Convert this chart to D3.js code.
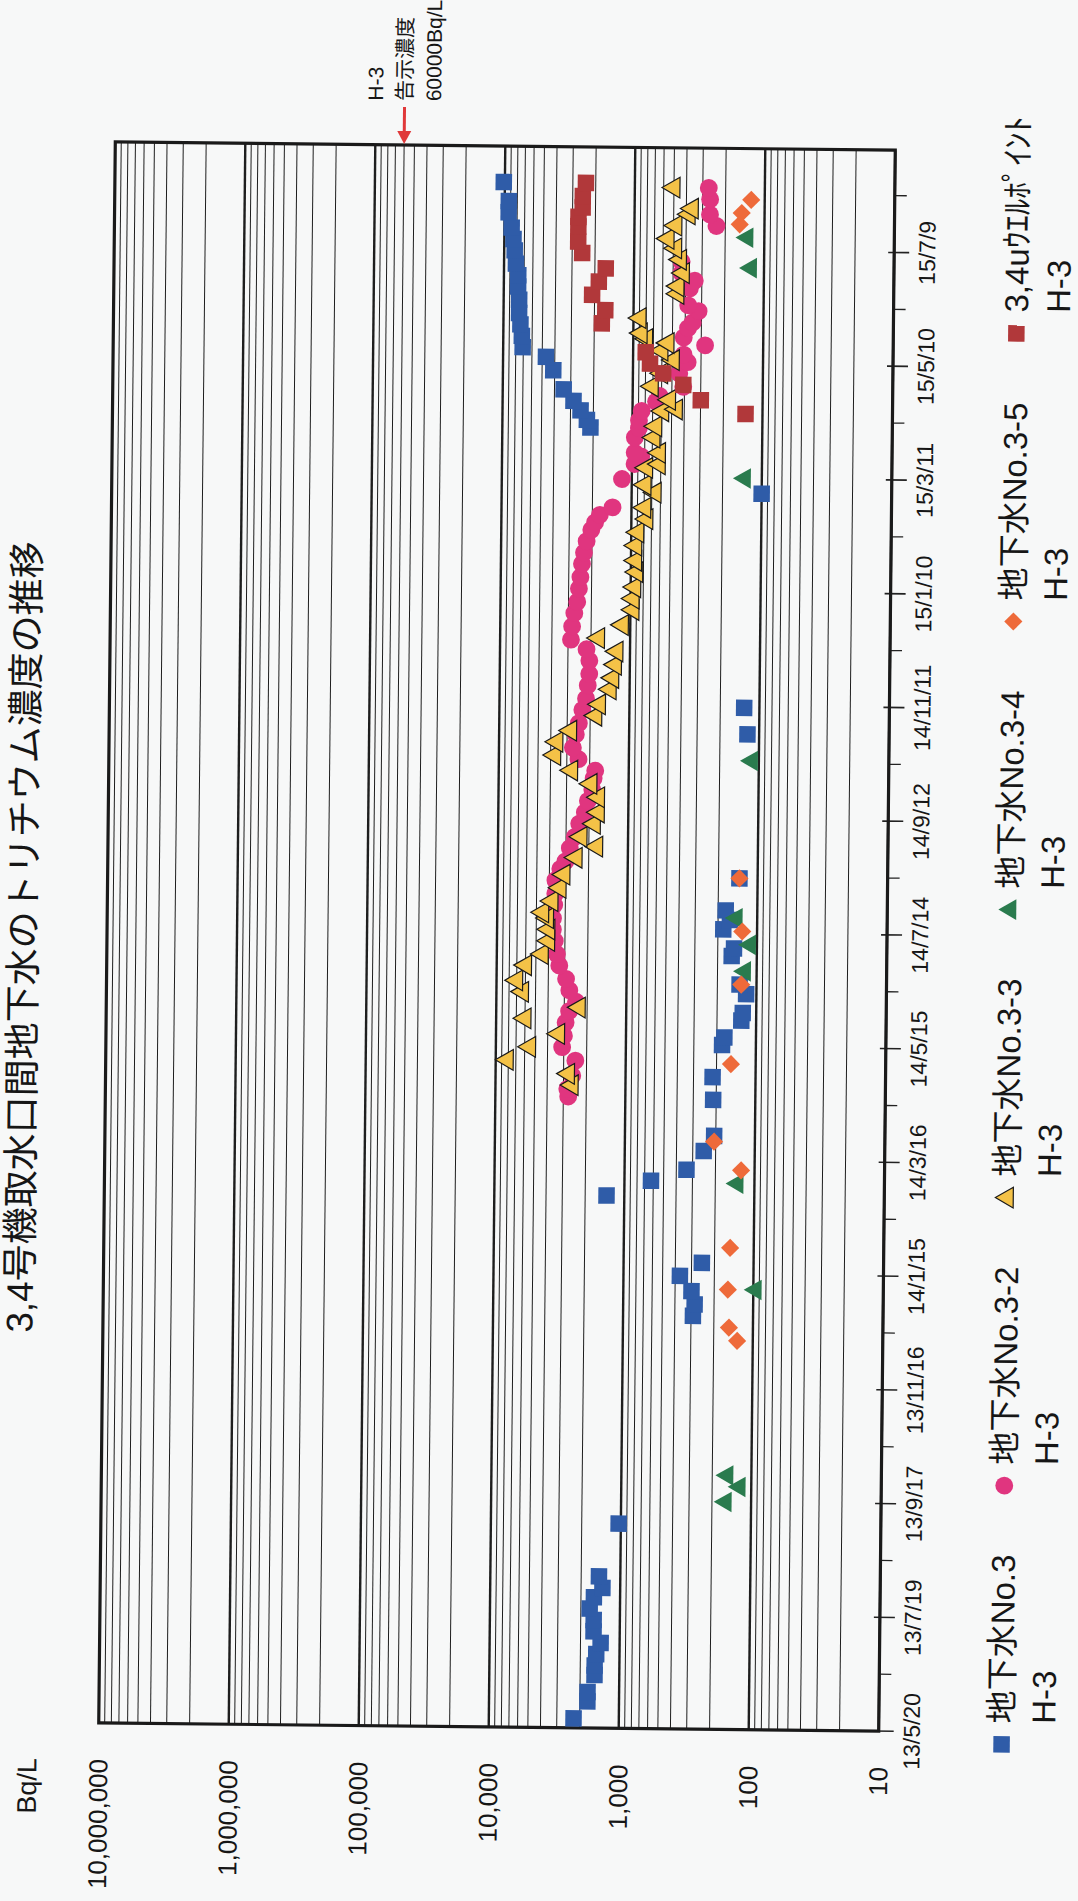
<!DOCTYPE html>
<html>
<head>
<meta charset="utf-8">
<script src="https://cdn.jsdelivr.net/npm/d3@7"></script>
<style>
  body { margin: 0; background: #f7f8f8; }
  svg { display: block; }
  text { font-family: "Liberation Sans", Arial, "Noto Sans CJK JP", sans-serif; fill: #161616; }
</style>
</head>
<body>
<div class="chart"></div>
<script>
var svgWidth = 1078;
var svgHeight = 1901;

// plot frame (the scanned page is turned 90deg, dates run bottom -> top)
var frame = { left: 107, right: 887, top: 146, bottom: 1727 };

// ---- data ----
var title = "3,4号機取水口間地下水のトリチウム濃度の推移";
var unitLabel = "Bq/L";
var valueTicks = [10, 100, 1000, 10000, 100000, 1000000, 10000000];
var dateTicks = ["13/5/20", "13/7/19", "13/9/17", "13/11/16", "14/1/15", "14/3/16", "14/5/15",
  "14/7/14", "14/9/12", "14/11/11", "15/1/10", "15/3/11", "15/5/10", "15/7/9"];
var dateMin = "2013-05-20";
var dateMax = "2015-09-01";
var limitValue = 60000;
var limitLines = ["H-3", "告示濃度", "60000Bq/L"];
var legendNames = ["地下水No.3", "地下水No.3-2", "地下水No.3-3", "地下水No.3-4", "地下水No.3-5", "3,4uｳｴﾙﾎﾟｲﾝﾄ"];
var legendSub = "H-3";

var no3 = [["2013-05-25",2230],["2013-06-03",1750],["2013-06-08",1750],["2013-06-17",1550],["2013-06-22",1550],
  ["2013-06-28",1510],["2013-07-04",1400],["2013-07-10",1590],["2013-07-16",1590],["2013-07-22",1710],
  ["2013-07-28",1590],["2013-08-02",1370],["2013-08-08",1460],["2013-09-05",1040],
  ["2013-12-24",290],["2013-12-30",282],["2014-01-06",299],["2014-01-14",368],["2014-01-21",250],
  ["2014-02-25",1370],["2014-03-05",625],["2014-03-11",334],["2014-03-21",247],["2014-03-29",206],
  ["2014-04-17",211],["2014-04-29",214],["2014-05-16",182],["2014-05-20",175],["2014-05-29",130],
  ["2014-06-02",127],["2014-06-12",120],["2014-06-17",135],["2014-07-02",156],["2014-07-06",150],
  ["2014-07-16",182],["2014-07-21",162],["2014-07-26",175],["2014-08-12",138],["2014-10-27",123],
  ["2014-11-10",131],["2015-03-03",100],
  ["2015-04-06",2100],["2015-04-10",2240],["2015-04-15",2510],["2015-04-20",2850],["2015-04-26",3400],
  ["2015-05-06",4100],["2015-05-13",4680],["2015-05-18",7080],["2015-05-24",7200],["2015-05-30",7400],
  ["2015-06-05",7590],["2015-06-12",7600],["2015-06-19",7760],["2015-06-25",7760],["2015-07-01",8100],
  ["2015-07-08",8300],["2015-07-14",8500],["2015-07-20",8800],["2015-07-28",9300],["2015-08-03",9300],
  ["2015-08-13",10200]];

var no3_2 = [["2014-04-18",2750],["2014-04-22",2800],["2014-04-29",2570],["2014-05-07",2440],["2014-05-14",3090],
  ["2014-05-20",3000],["2014-05-27",2920],["2014-06-02",2750],["2014-06-07",2440],["2014-06-13",2750],
  ["2014-06-19",2920],["2014-06-26",3300],["2014-07-02",3450],["2014-07-09",3590],["2014-07-15",3720],
  ["2014-07-21",3720],["2014-07-28",3650],["2014-08-03",3590],["2014-08-10",3590],["2014-08-16",3300],
  ["2014-08-20",3020],["2014-08-27",2800],["2014-09-02",2570],["2014-09-09",2380],["2014-09-15",2160],
  ["2014-09-21",2050],["2014-09-27",1900],["2014-10-03",1860],["2014-10-07",1810],["2014-10-13",2440],
  ["2014-10-19",2700],["2014-10-26",2570],["2014-11-01",2440],["2014-11-08",2300],["2014-11-14",2160],
  ["2014-11-21",2100],["2014-11-27",2050],["2014-12-04",2050],["2014-12-10",2160],["2014-12-15",2850],
  ["2014-12-22",2800],["2014-12-29",2700],["2015-01-04",2570],["2015-01-11",2500],["2015-01-17",2440],
  ["2015-01-24",2380],["2015-01-30",2300],["2015-02-05",2200],["2015-02-11",2030],["2015-02-15",1900],
  ["2015-02-19",1750],["2015-02-23",1400],["2015-03-10",1190],["2015-03-18",955],["2015-03-22",850],
  ["2015-03-24",955],["2015-04-01",955],["2015-04-06",890],["2015-04-10",890],["2015-04-15",850],
  ["2015-04-20",660],["2015-04-23",620],["2015-04-28",409],["2015-05-05",440],["2015-05-11",380],
  ["2015-05-15",409],["2015-05-20",280],["2015-05-24",409],["2015-05-29",380],["2015-06-01",350],
  ["2015-06-07",316],["2015-06-10",380],["2015-06-19",370],["2015-06-23",340],["2015-06-27",431],
  ["2015-07-03",431],["2015-07-22",234],["2015-07-28",263],["2015-08-05",263],["2015-08-11",270]];

var no3_3 = [["2014-04-24",2570],["2014-04-30",2750],["2014-05-07",8150],["2014-05-14",5500],["2014-05-21",3300],
  ["2014-05-29",6000],["2014-06-04",2300],["2014-06-12",6300],["2014-06-18",7000],["2014-06-26",6000],
  ["2014-07-02",4470],["2014-07-09",4000],["2014-07-15",4000],["2014-07-21",4100],["2014-07-24",4470],
  ["2014-07-30",3800],["2014-08-06",3300],["2014-08-13",3090],["2014-08-22",2500],["2014-08-28",1740],
  ["2014-09-02",2300],["2014-09-09",1820],["2014-09-15",1700],["2014-09-23",1700],["2014-09-30",1950],
  ["2014-10-07",2750],["2014-10-15",3720],["2014-10-22",3590],["2014-10-28",2820],["2014-11-05",1810],
  ["2014-11-11",1700],["2014-11-19",1410],["2014-11-25",1350],["2014-12-02",1290],["2014-12-09",1260],
  ["2014-12-16",1750],["2014-12-23",1150],["2014-12-31",955],["2015-01-06",955],["2015-01-12",930],
  ["2015-01-20",900],["2015-01-26",920],["2015-02-03",920],["2015-02-10",890],["2015-02-17",760],
  ["2015-02-23",790],["2015-03-03",660],["2015-03-07",790],["2015-03-16",770],["2015-03-18",616],
  ["2015-03-24",616],["2015-04-01",680],["2015-04-07",660],["2015-04-15",585],["2015-04-16",460],
  ["2015-04-21",520],["2015-04-28",708],["2015-05-05",600],["2015-05-12",490],["2015-05-17",600],
  ["2015-05-21",540],["2015-05-23",790],["2015-05-26",870],["2015-06-03",890],["2015-06-16",457],
  ["2015-06-20",457],["2015-06-27",417],["2015-07-04",440],["2015-07-10",480],["2015-07-15",550],
  ["2015-07-22",480],["2015-07-28",380],["2015-07-31",360],["2015-08-11",500]];

var no3_4 = [["2013-09-17",157],["2013-09-25",123],["2013-10-01",153],["2014-01-07",96],["2014-03-04",135],
  ["2014-06-24",123],["2014-07-08",113],["2014-07-22",144],["2014-10-13",113],["2015-03-11",135],
  ["2015-06-30",126],["2015-07-16",135]];

var no3_5 = [["2013-12-11",132],["2013-12-18",153],["2014-01-07",157],["2014-01-29",152],["2014-03-11",127],
  ["2014-03-26",206],["2014-05-06",155],["2014-06-17",131],["2014-07-15",130],["2014-08-12",138],
  ["2015-07-23",155],["2015-07-29",150],["2015-08-05",127]];

var wellPoint = [["2015-04-14",135],["2015-04-21",299],["2015-04-29",409],["2015-05-05",585],["2015-05-10",740],
  ["2015-05-16",800],["2015-05-31",1750],["2015-06-07",1650],["2015-06-15",2090],["2015-06-22",1860],
  ["2015-06-29",1650],["2015-07-07",2510],["2015-07-13",2700],["2015-07-21",2700],["2015-07-26",2700],
  ["2015-07-31",2510],["2015-08-06",2510],["2015-08-13",2380]];

// marker styles, in legend order
var seriesList = [
  { data: no3,       shape: "square",   fill: "#2f5ca8", stroke: "none" },
  { data: no3_2,     shape: "circle",   fill: "#e0357f", stroke: "none" },
  { data: no3_3,     shape: "triangle", fill: "#f4c247", stroke: "#1a1a1a" },
  { data: no3_4,     shape: "triangle", fill: "#2a7b4e", stroke: "none" },
  { data: no3_5,     shape: "diamond",  fill: "#ee6a3a", stroke: "none" },
  { data: wellPoint, shape: "square",   fill: "#b1383a", stroke: "none" }
];

var parseDate = d3.utcParse("%Y-%m-%d");
var parseTick = d3.utcParse("%y/%m/%d");

var svg = d3.select(".chart")
  .append("svg")
  .attr("width", svgWidth)
  .attr("height", svgHeight);

// slight tilt of the scan
var page = svg.append("g")
  .attr("transform", "rotate(0.6, 497, 937)");

var xScale = d3.scaleLog()
  .domain([10, 10000000])
  .range([frame.right, frame.left]);

var yScale = d3.scaleUtc()
  .domain([parseDate(dateMin), parseDate(dateMax)])
  .range([frame.bottom, frame.top]);

// gridlines of the log axis (2..9 minor, decades heavy)
var gridValues = [];
valueTicks.slice(0, -1).forEach(function (d) {
  for (var k = 1; k < 10; k++) gridValues.push(d * k);
});
page.append("g")
  .selectAll("line")
  .data(gridValues)
  .enter()
  .append("line")
  .attr("x1", d => xScale(d))
  .attr("x2", d => xScale(d))
  .attr("y1", frame.top)
  .attr("y2", frame.bottom)
  .attr("stroke", "#1e1e1e")
  .attr("stroke-width", d => (Math.log10(d) % 1 === 0 ? 2.4 : 1));

// value labels under the plot
page.append("g")
  .selectAll("text")
  .data(valueTicks)
  .enter()
  .append("text")
  .attr("transform", d => `translate(${xScale(d)},1763) rotate(-90)`)
  .attr("text-anchor", "end")
  .attr("dominant-baseline", "central")
  .style("font-size", "26px")
  .text(d => d3.format(",")(d));

page.append("text")
  .attr("transform", "translate(36,1763) rotate(-90)")
  .attr("text-anchor", "end")
  .attr("dominant-baseline", "central")
  .style("font-size", "27px")
  .text(unitLabel);

// date axis on the right side
var majorDates = dateTicks.map(parseTick);
var minorDates = majorDates.map(d => d3.utcDay.offset(d, 30));

page.append("g")
  .selectAll("line")
  .data(minorDates.filter(d => yScale(d) > frame.top))
  .enter()
  .append("line")
  .attr("x1", frame.right)
  .attr("x2", frame.right + 12)
  .attr("y1", d => yScale(d))
  .attr("y2", d => yScale(d))
  .attr("stroke", "#222")
  .attr("stroke-width", 1.3);

page.append("g")
  .selectAll("line")
  .data(majorDates)
  .enter()
  .append("line")
  .attr("x1", frame.right - 6)
  .attr("x2", frame.right + 15)
  .attr("y1", d => yScale(d))
  .attr("y2", d => yScale(d))
  .attr("stroke", "#222")
  .attr("stroke-width", 1.6);

page.append("g")
  .selectAll("text")
  .data(dateTicks)
  .enter()
  .append("text")
  .attr("transform", d => `translate(920,${yScale(parseTick(d))}) rotate(-90)`)
  .attr("text-anchor", "middle")
  .attr("dominant-baseline", "central")
  .style("font-size", "23px")
  .text(d => d);

// frame
page.append("rect")
  .attr("x", frame.left)
  .attr("y", frame.top)
  .attr("width", frame.right - frame.left)
  .attr("height", frame.bottom - frame.top)
  .attr("fill", "none")
  .attr("stroke", "#1a1a1a")
  .attr("stroke-width", 3.2);

// markers
function markerPath(shape) {
  if (shape === "circle") return d3.symbol().type(d3.symbolCircle).size(250)();
  if (shape === "triangle") return d3.symbol().type(d3.symbolTriangle).size(185)();
  if (shape === "diamond") return d3.symbol().type(d3.symbolSquare).size(165)();
  return d3.symbol().type(d3.symbolSquare).size(272)();
}
function markerTurn(shape) {
  if (shape === "triangle") return " rotate(-90)";
  if (shape === "diamond") return " rotate(45)";
  return "";
}

seriesList.forEach(function (s) {
  page.append("g")
    .selectAll("path")
    .data(s.data)
    .enter()
    .append("path")
    .attr("d", markerPath(s.shape))
    .attr("transform", d => `translate(${xScale(d[1])},${yScale(parseDate(d[0]))})` + markerTurn(s.shape))
    .attr("fill", s.fill)
    .attr("stroke", s.stroke)
    .attr("stroke-width", 1.2);
});

// limit annotation (60000 Bq/L)
var limitX = xScale(limitValue);
page.append("line")
  .attr("x1", limitX).attr("x2", limitX)
  .attr("y1", 108).attr("y2", frame.top - 12)
  .attr("stroke", "#e0393a")
  .attr("stroke-width", 3);
page.append("path")
  .attr("d", `M${limitX - 7},${frame.top - 14}L${limitX + 7},${frame.top - 14}L${limitX},${frame.top - 1}Z`)
  .attr("fill", "#e0393a");
limitLines.forEach(function (t, i) {
  page.append("text")
    .attr("transform", `translate(${limitX + (i - 1) * 29},102) rotate(-90)`)
    .attr("text-anchor", "start")
    .attr("dominant-baseline", "central")
    .style("font-size", "21px")
    .text(t);
});

// title on the left side
page.append("text")
  .attr("transform", "translate(24,942) rotate(-90)")
  .attr("text-anchor", "middle")
  .attr("dominant-baseline", "central")
  .style("font-size", "37px")
  .text(title);

// legend (right side, reading bottom -> top)
var legendY = 1718;
legendNames.forEach(function (name, i) {
  var s = seriesList[i];
  var t = page.append("text")
    .attr("transform", `translate(1010,${legendY}) rotate(-90)`)
    .attr("text-anchor", "start")
    .attr("dominant-baseline", "central")
    .style("font-size", "33px")
    .text(name);
  page.append("text")
    .attr("transform", `translate(1052,${legendY}) rotate(-90)`)
    .attr("text-anchor", "start")
    .attr("dominant-baseline", "central")
    .style("font-size", "33px")
    .text(legendSub);
  page.append("path")
    .attr("d", markerPath(s.shape))
    .attr("transform", `translate(1010,${legendY + 21})` + markerTurn(s.shape))
    .attr("fill", s.fill)
    .attr("stroke", s.stroke)
    .attr("stroke-width", 1.2);
  legendY -= t.node().getComputedTextLength() + 90;
});
</script>
</body>
</html>
